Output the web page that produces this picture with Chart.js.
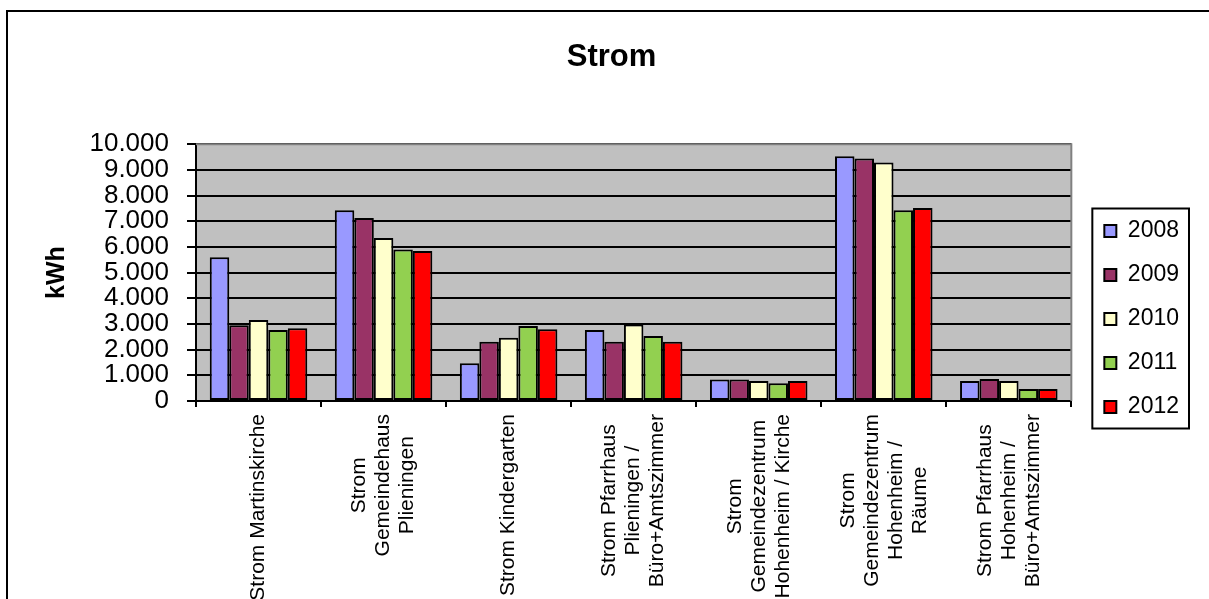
<!DOCTYPE html>
<html>
<head>
<meta charset="utf-8">
<script src="https://cdn.jsdelivr.net/npm/chart.js@4.4.1/dist/chart.umd.min.js"></script>
<style>
  html, body { margin: 0; padding: 0; background: #fff; overflow: hidden; }
  canvas { display: block; }
</style>
</head>
<body>
<canvas id="stromChart" width="1226" height="638"></canvas>
<script>
// categories (each entry = lines of the rotated label)
const categories = [
    ['Strom Martinskirche'],
    ['Strom', 'Gemeindehaus', 'Plieningen'],
    ['Strom Kindergarten'],
    ['Strom Pfarrhaus', 'Plieningen /', 'Büro+Amtszimmer'],
    ['Strom', 'Gemeindezentrum', 'Hohenheim / Kirche'],
    ['Strom', 'Gemeindezentrum', 'Hohenheim /', 'Räume'],
    ['Strom Pfarrhaus', 'Hohenheim /', 'Büro+Amtszimmer']
];
const years = ['2008', '2009', '2010', '2011', '2012'];
const values2008 = [5600, 7430, 1470, 2760, 840, 9530, 780];
const values2009 = [2950, 7130, 2310, 2310, 840, 9440, 860];
const values2010 = [3150, 6350, 2460, 2980, 780, 9290, 780];
const values2011 = [2760, 5900, 2920, 2530, 690, 7430, 470];
const values2012 = [2830, 5840, 2790, 2310, 780, 7520, 470];
const yTickLabels = ['0', '1.000', '2.000', '3.000', '4.000', '5.000', '6.000', '7.000', '8.000', '9.000', '10.000'];

const FONT = "'Liberation Sans', Arial, sans-serif";
Chart.defaults.font.family = FONT;
Chart.defaults.color = '#000';

const seriesValues = [values2008, values2009, values2010, values2011, values2012];
const seriesColors = ['#9999FF', '#993366', '#FFFFCC', '#92D050', '#FF0000'];

// gray plot background + outer frame
const backgroundPlugin = {
    id: 'background',
    beforeDraw(chart) {
        const {ctx, chartArea} = chart;
        ctx.save();
        ctx.fillStyle = '#C0C0C0';
        ctx.fillRect(chartArea.left, chartArea.top, chartArea.right - chartArea.left, chartArea.bottom - chartArea.top);
        ctx.strokeStyle = '#000';
        ctx.lineWidth = 2;
        ctx.strokeRect(7, 11, 1400, 800);
        ctx.restore();
    },
    afterDatasetsDraw(chart) {
        // gray border on top and right of the plot area
        const {ctx, chartArea} = chart;
        ctx.save();
        ctx.strokeStyle = '#808080';
        ctx.lineWidth = 2;
        ctx.beginPath();
        ctx.moveTo(chartArea.left, chartArea.top);
        ctx.lineTo(chartArea.right, chartArea.top);
        ctx.lineTo(chartArea.right, chartArea.bottom);
        ctx.stroke();
        ctx.restore();
    }
};

// rotated category labels with centred lines
const xLabelsPlugin = {
    id: 'xLabels',
    afterDraw(chart) {
        const {ctx} = chart;
        const x = chart.scales.x;
        ctx.save();
        ctx.font = '21px ' + FONT;
        ctx.fillStyle = '#000';
        ctx.textAlign = 'center';
        ctx.textBaseline = 'middle';
        const lineH = 24;
        categories.forEach((lines, i) => {
            const px = x.getPixelForValue(i);
            const longest = Math.max(...lines.map(l => ctx.measureText(l).width));
            ctx.save();
            ctx.translate(px, x.top + 13 + longest / 2);
            ctx.rotate(-Math.PI / 2);
            lines.forEach((line, j) => {
                ctx.fillText(line, 0, (j - (lines.length - 1) / 2) * lineH);
            });
            ctx.restore();
        });
        ctx.restore();
    }
};

// box round the legend
const legendBoxPlugin = {
    id: 'legendBox',
    afterDraw(chart) {
        const boxes = chart.legend && chart.legend.legendHitBoxes;
        if (!boxes || !boxes.length) return;
        const left = Math.min(...boxes.map(b => b.left)) - 12;
        const right = Math.max(...boxes.map(b => b.left + b.width)) + 10;
        const top = boxes[0].top - 11;
        const last = boxes[boxes.length - 1];
        const bottom = last.top + last.height + 10;
        const {ctx} = chart;
        ctx.save();
        ctx.strokeStyle = '#000';
        ctx.lineWidth = 2;
        ctx.strokeRect(left, top, right - left, bottom - top);
        ctx.restore();
    }
};

const ctx = document.getElementById('stromChart').getContext('2d');
const stromChart = new Chart(ctx, {
    type: 'bar',
    data: {
        labels: categories,
        datasets: years.map((year, i) => ({
            label: year,
            data: seriesValues[i],
            backgroundColor: seriesColors[i],
            borderColor: '#000',
            borderWidth: 2,
            borderSkipped: false,
            categoryPercentage: 0.78,
            barPercentage: 1
        }))
    },
    options: {
        responsive: false,
        animation: false,
        layout: {
            padding: { left: 34, right: 37, top: 0, bottom: 0 }
        },
        scales: {
            x: {
                grid: {
                    display: true,
                    drawOnChartArea: false,
                    drawTicks: true,
                    tickLength: 6,
                    color: '#000',
                    lineWidth: 2,
                    offset: true
                },
                border: { color: '#000', width: 2 },
                ticks: { display: false },
                afterFit(scale) {
                    scale.height = 237;
                }
            },
            y: {
                min: 0,
                max: 10000,
                ticks: {
                    stepSize: 1000,
                    autoSkip: false,
                    padding: 18,
                    font: { size: 26 },
                    callback: (value, index) => yTickLabels[index]
                },
                grid: {
                    color: '#000',
                    lineWidth: 2,
                    tickLength: 9
                },
                border: { color: '#000', width: 2 },
                title: {
                    display: true,
                    text: 'kWh',
                    font: { size: 25, weight: 'bold' },
                    padding: { top: 8, bottom: 0 }
                },
                afterFit(scale) {
                    scale.width = 162;
                }
            },
            gap: {
                type: 'linear',
                position: 'right',
                display: true,
                grid: { display: false },
                ticks: { display: false },
                border: { display: false },
                afterFit(scale) {
                    scale.width = 12;
                }
            }
        },
        plugins: {
            title: {
                display: true,
                text: 'Strom',
                font: { size: 31, weight: 'bold' },
                padding: { top: 39, bottom: 68 }
            },
            legend: {
                display: true,
                position: 'right',
                labels: {
                    boxWidth: 12,
                    boxHeight: 12,
                    padding: 21,
                    font: { size: 23 }
                }
            },
            tooltip: { enabled: false }
        }
    },
    plugins: [backgroundPlugin, xLabelsPlugin, legendBoxPlugin]
});
</script>
</body>
</html>
